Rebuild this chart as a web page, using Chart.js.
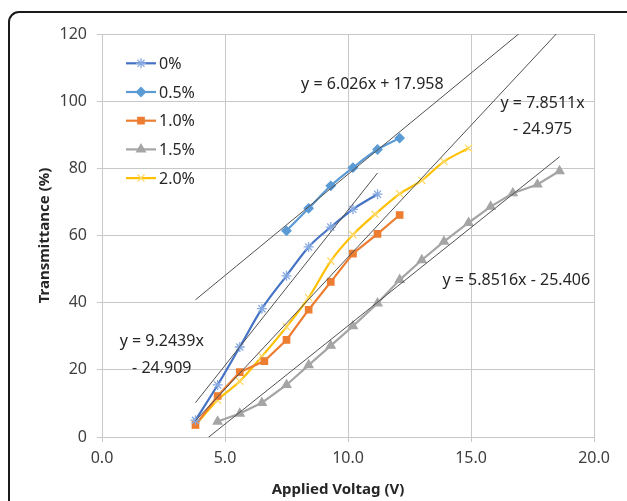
<!DOCTYPE html>
<html>
<head>
<meta charset="utf-8">
<script src="https://cdn.jsdelivr.net/npm/chart.js@4.4.1/dist/chart.umd.min.js"></script>
<style>
html,body{margin:0;padding:0;background:#fff;}
#wrap{position:relative;width:627px;height:501px;overflow:hidden;}
#frame{position:absolute;left:8px;top:11px;width:640px;height:520px;border:2px solid #1a1a1a;border-radius:11px;box-sizing:border-box;}
canvas{position:absolute;left:0;top:0;}
</style>
</head>
<body>
<div id="wrap"><div id="frame"></div><canvas id="c" width="627" height="501"></canvas></div>
<script>
// series labels
const labels = ['0%','0.5%','1.0%','1.5%','2.0%'];

// applied voltage (V) / transmittance (%) per concentration
const v0  = [3.8,4.7,5.6,6.5,7.5,8.4,9.3,10.2,11.2];
const t0  = [5.0,15.5,26.8,38.2,48.0,56.6,62.5,67.8,72.3];
const v05 = [7.5,8.4,9.3,10.2,11.2,12.1];
const t05 = [61.4,68.1,74.8,80.2,85.6,89.0];
const v10 = [3.8,4.7,5.6,6.6,7.5,8.4,9.3,10.2,11.2,12.1];
const t10 = [3.6,12.2,19.3,22.6,28.9,37.9,46.2,54.6,60.5,66.1];
const v15 = [4.7,5.6,6.5,7.5,8.4,9.3,10.2,11.2,12.1,13.0,13.9,14.9,15.8,16.7,17.7,18.6];
const t15 = [4.6,7.0,10.2,15.5,21.4,27.2,33.0,39.8,46.8,52.7,58.2,63.8,68.6,72.6,75.2,79.2];
const v20 = [3.8,4.7,5.6,6.5,7.5,8.4,9.3,10.2,11.1,12.1,13.0,13.9,14.9];
const t20 = [3.5,11.0,16.6,24.0,32.8,41.5,52.4,60.2,66.3,72.4,76.4,82.0,86.0];

// linear trendlines
const trendSlope     = [9.2439, 6.026, 7.8511, 5.8516];
const trendIntercept = [-24.909, 17.958, -24.975, -25.406];
const trendFrom      = [3.8, 3.8, 3.8, 3.8];
const trendTo        = [11.2, 18.6, 18.6, 18.6];
const trendText      = [['y = 9.2439x','- 24.909'], ['y = 6.026x + 17.958'], ['y = 7.8511x','- 24.975'], ['y = 5.8516x - 25.406']];
const trendTextAt    = [[2.43,28.4],[10.99,105.0],[17.91,99.4],[16.84,46.75]];

// axis ticks
const xTicks = [0,5,10,15,20];
const yTicks = [0,20,40,60,80,100,120];

const FONT = "'Noto Sans', 'Open Sans', sans-serif";
const pts = (xs, ys) => xs.map((x,i) => ({x:x, y:ys[i]}));

const seriesStyle = [
  {line:'#4472C4', mark:'#86a9e2', fill:'#86a9e2', style:'star', r:5, tension:0.4},
  {line:'#5B9BD5', mark:'#5B9BD5', fill:'#5B9BD5', style:'rectRot', r:4.5, tension:0.4},
  {line:'#ED7D31', mark:'#ED7D31', fill:'#ED7D31', style:'rect', r:4.5, tension:0},
  {line:'#A5A5A5', mark:'#A5A5A5', fill:'#A5A5A5', style:'triangle', r:5, tension:0},
  {line:'#FFC000', mark:'#ffd966', fill:'#ffd966', style:'crossRot', r:5, tension:0.4}
];
const seriesData = [pts(v0,t0), pts(v05,t05), pts(v10,t10), pts(v15,t15), pts(v20,t20)];

const datasets = seriesData.map((d,i) => ({
  label: labels[i],
  data: d,
  showLine: true,
  borderColor: seriesStyle[i].line,
  borderWidth: 2.2,
  cubicInterpolationMode: seriesStyle[i].tension ? 'monotone' : 'default',
  pointStyle: seriesStyle[i].style,
  pointRadius: seriesStyle[i].r,
  pointBorderColor: seriesStyle[i].mark,
  pointBackgroundColor: seriesStyle[i].fill,
  pointBorderWidth: 1.3,
  order: 1
}));
trendSlope.forEach((m,i) => {
  datasets.push({
    label: 'trend' + i,
    data: [trendFrom[i], trendTo[i]].map(x => ({x:x, y:m*x + trendIntercept[i]})),
    showLine: true,
    borderColor: '#505050',
    borderWidth: 1,
    pointRadius: 0,
    order: 0
  });
});

const overlay = {
  id: 'overlay',
  afterDraw(chart) {
    const ctx = chart.ctx;
    const xs = chart.scales.x, ys = chart.scales.y;
    ctx.save();
    // trendline equations
    ctx.fillStyle = '#262626';
    ctx.font = '16px ' + FONT;
    ctx.textAlign = 'center';
    ctx.textBaseline = 'middle';
    trendText.forEach((lines,i) => {
      const px = xs.getPixelForValue(trendTextAt[i][0]);
      const py = ys.getPixelForValue(trendTextAt[i][1]);
      lines.forEach((t,k) => ctx.fillText(t, px, py + k*26.5));
    });
    // x axis title
    ctx.font = 'bold 15px ' + FONT;
    ctx.fillStyle = '#262626';
    ctx.fillText('Applied Voltag (V)', 338, 490);
    // legend inside plot
    ctx.font = '16px ' + FONT;
    ctx.textAlign = 'left';
    labels.forEach((lab,i) => {
      const y = 63.3 + i*28.7;
      const s = seriesStyle[i];
      ctx.strokeStyle = s.line;
      ctx.lineWidth = 2.2;
      ctx.beginPath(); ctx.moveTo(126, y); ctx.lineTo(156, y); ctx.stroke();
      ctx.strokeStyle = s.mark;
      ctx.fillStyle = s.fill;
      ctx.lineWidth = 1.3;
      Chart.helpers.drawPoint(ctx, {pointStyle:s.style, radius:s.r, borderWidth:1.3, rotation:0}, 141, y);
      ctx.fillStyle = '#262626';
      ctx.fillText(lab, 159, y + 1);
    });
    ctx.restore();
  }
};

new Chart(document.getElementById('c'), {
  type: 'scatter',
  data: { datasets: datasets },
  options: {
    responsive: false,
    animation: false,
    layout: { padding: { left: 0, top: 34, right: 33, bottom: 0 } },
    plugins: { legend: { display: false }, tooltip: { enabled: false } },
    scales: {
      x: {
        type: 'linear', min: 0, max: 20,
        afterFit: s => { s.height = 64; },
        afterBuildTicks: s => { s.ticks = xTicks.map(v => ({value:v})); },
        grid: { color: '#c8c8c8', lineWidth: 1, tickLength: 5 },
        border: { color: '#c8c8c8' },
        ticks: { color: '#404040', font: { family: FONT, size: 16 }, padding: 7, callback: v => Number(v).toFixed(1) }
      },
      y: {
        type: 'linear', min: 0, max: 120,
        afterFit: s => { s.width = 102; },
        afterBuildTicks: s => { s.ticks = yTicks.map(v => ({value:v})); },
        grid: { color: '#c8c8c8', lineWidth: 1, tickLength: 5 },
        border: { color: '#c8c8c8' },
        ticks: { color: '#404040', font: { family: FONT, size: 16 }, padding: 10 },
        title: { display: true, text: 'Transmittance (%)', color: '#262626', font: { family: FONT, size: 15, weight: 'bold' }, padding: { top: 36, bottom: 0 } }
      }
    }
  },
  plugins: [overlay]
});
</script>
</body>
</html>
